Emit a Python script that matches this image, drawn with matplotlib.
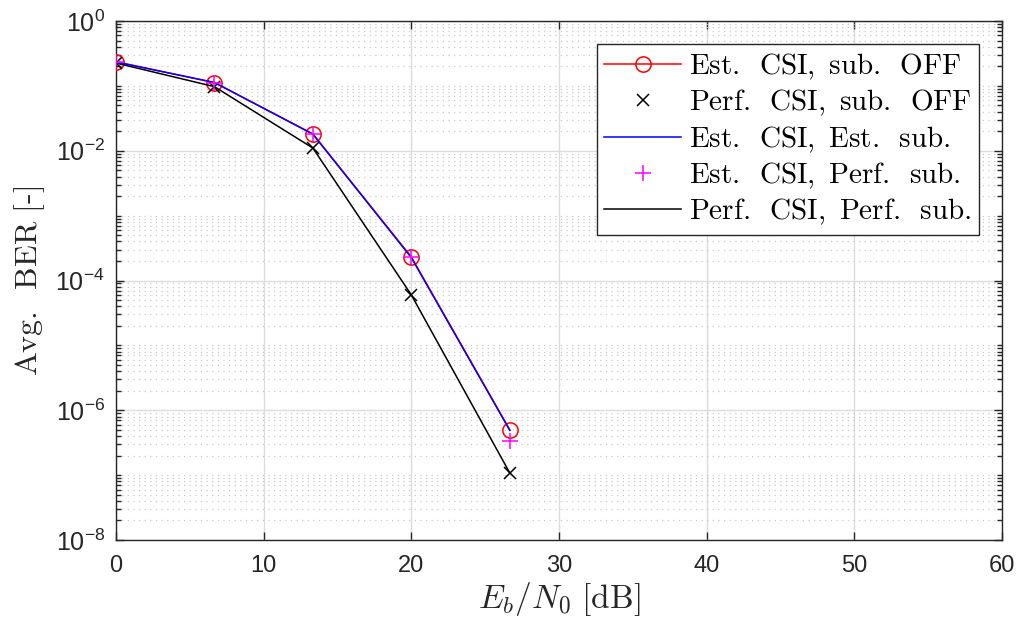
import matplotlib
matplotlib.use("Agg")
import matplotlib.pyplot as plt
import matplotlib.ticker as mticker
import numpy as np

plt.rcParams["mathtext.fontset"] = "cm"
plt.rcParams["mathtext.rm"] = "Liberation Sans"
plt.rcParams["font.family"] = "Liberation Sans"

# Eb/N0 [dB]
ebn0 = [0, 6.667, 13.333, 20, 26.667]

# Avg. BER per configuration
ber_est_csi_sub_off = [0.236, 0.112, 0.0182, 2.31e-4, 5.0e-7]
ber_perf_csi_sub_off = [0.225, 0.0972, 0.0110, 6.0e-5, 1.08e-7]
ber_est_csi_est_sub = [0.233, 0.113, 0.0180, 2.25e-4, 4.9e-7]
ber_est_csi_perf_sub = [0.236, 0.112, 0.0182, 2.31e-4, 3.3e-7]
ber_perf_csi_perf_sub = [0.225, 0.0972, 0.0110, 6.0e-5, 1.08e-7]

labels = [
    r"$\mathrm{Est.\ \:CSI,\ sub.\ \:OFF}$",
    r"$\mathrm{Perf.\ \:CSI,\ sub.\ \:OFF}$",
    r"$\mathrm{Est.\ \:CSI,\ Est.\ \:sub.}$",
    r"$\mathrm{Est.\ \:CSI,\ Perf.\ \:sub.}$",
    r"$\mathrm{Perf.\ \:CSI,\ Perf.\ \:sub.}$",
]

fig = plt.figure(figsize=(10.16, 6.26), dpi=100)
ax = fig.add_axes([116 / 1016, 1 - 540 / 626, 886 / 1016, 519 / 626])

ax.semilogy(ebn0, ber_est_csi_sub_off, color="red", lw=1.1, marker="o",
            ms=11, mfc="none", mew=1.1, label=labels[0], zorder=3)
ax.semilogy(ebn0, ber_perf_csi_sub_off, color="black", ls="none", marker="x",
            ms=8, mew=1.1, label=labels[1], zorder=4)
ax.semilogy(ebn0, ber_est_csi_est_sub, color="blue", lw=1.1,
            label=labels[2], zorder=4)
ax.semilogy(ebn0, ber_est_csi_perf_sub, color="magenta", ls="none", marker="+",
            ms=12, mew=1.1, label=labels[3], zorder=5)
ax.semilogy(ebn0, ber_perf_csi_perf_sub, color="black", lw=1.1,
            label=labels[4], zorder=3)

ax.set_xlim(0, 60)
ax.set_ylim(1e-8, 1)
ax.set_xticks(np.arange(0, 61, 10))
ax.set_xticklabels([str(v) for v in range(0, 61, 10)], fontsize=17)

major = [10.0 ** k for k in range(0, -9, -2)]
ax.yaxis.set_major_locator(mticker.FixedLocator(major))
ax.set_yticklabels([r"$\mathrm{10^{%d}}$" % k for k in range(0, -9, -2)],
                   fontsize=18, math_fontfamily="custom")
minor = []
for k in range(-8, 0):
    for m in range(1, 10):
        if m == 1 and k % 2 == 0:
            continue
        minor.append(m * 10.0 ** k)
ax.yaxis.set_minor_locator(mticker.FixedLocator(minor))
ax.yaxis.set_minor_formatter(mticker.NullFormatter())

ax.grid(True, which="major", color="#dcdcdc", lw=1.0, ls="-")
ax.grid(True, which="minor", axis="y", color="#c8c8c8", lw=0.9, ls=(0, (1, 3.5)))
ax.set_axisbelow(True)

ax.tick_params(which="both", direction="in", top=True, right=True,
               colors="#262626", labelcolor="#262626")
ax.tick_params(which="major", length=6, width=1.0, pad=8)
ax.tick_params(axis="x", which="major", pad=11)
ax.tick_params(which="minor", length=3.5, width=1.0)
for s in ax.spines.values():
    s.set_color("#262626")
    s.set_linewidth(1.0)

ax.set_xlabel(r"$E_b/N_0\ \mathrm{[dB]}$", fontsize=24, color="#262626",
              math_fontfamily="cm", labelpad=2)
ax.set_ylabel(r"$\mathrm{Avg.\ \:BER\ [\text{-}]}$", fontsize=23, color="#262626",
              math_fontfamily="cm", labelpad=6)

leg = ax.legend(loc="upper right", frameon=True, fancybox=False,
                framealpha=1, edgecolor="#262626", borderaxespad=0.8,
                handlelength=2.65, handletextpad=0.25, labelspacing=0.2,
                borderpad=0.25, prop={"math_fontfamily": "cm", "size": 21})
leg.get_frame().set_linewidth(1.0)

fig.savefig("out.png", dpi=100)
